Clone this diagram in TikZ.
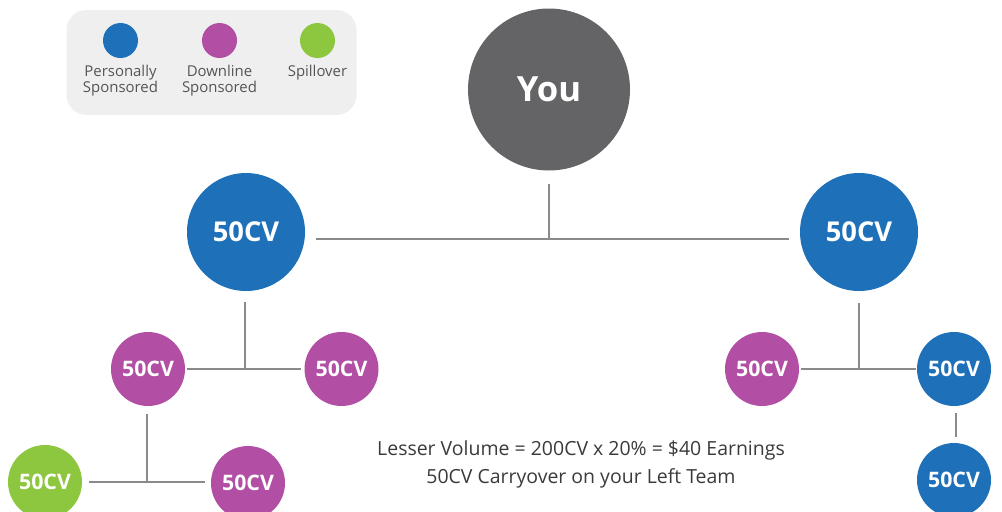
\documentclass[tikz,border=0pt]{standalone}
\usepackage{fontspec}
\setmainfont{Open Sans}
\definecolor{pblue}{HTML}{1E71B8}
\definecolor{pmag}{HTML}{B24FA4}
\definecolor{pgreen}{HTML}{8DC63F}
\definecolor{pgray}{HTML}{646467}
\definecolor{plink}{HTML}{8A8A8A}
\definecolor{plegend}{HTML}{EFEFEF}
\definecolor{ptext}{HTML}{3A3A3A}
\definecolor{plegtext}{HTML}{555555}
\begin{document}
\begin{tikzpicture}[x=0.75pt,y=-0.75pt,
  bub/.style={circle, inner sep=0pt, text=white},
  bigc/.style={bub, minimum size=88.5pt, font=\fontsize{20.5pt}{21pt}\selectfont\bfseries},
  smallc/.style={bub, minimum size=55.5pt, font=\fontsize{16pt}{17pt}\selectfont\bfseries},
  youc/.style={bub, fill=pgray, minimum size=121.5pt, font=\fontsize{26pt}{27pt}\selectfont\bfseries},
  legc/.style={circle, inner sep=0pt, minimum size=26.25pt},
  legtext/.style={anchor=north, inner sep=0pt, align=center, text=plegtext,
     font=\fontsize{11.2pt}{12pt}\selectfont},
  link/.style={draw=plink, line width=2pt}]
\useasboundingbox (0,0) rectangle (1002,511);

% legend
\node[draw=none, fill=plegend, rounded corners=15pt, minimum width=217.5pt, minimum height=78.75pt, inner sep=0pt] (legend) at (211.5,62.5) {};
\node[legc, fill=pblue] (lgblue) at (120.5,40.5) {};
\node[legc, fill=pmag] (lgmag) at (219.5,40.5) {};
\node[legc, fill=pgreen] (lggreen) at (317.5,40.5) {};
\node[legtext] (lgt1) at (120.5,65) {Personally\\Sponsored};
\node[legtext] (lgt2) at (219.5,65) {Downline\\Sponsored};
\node[legtext] (lgt3) at (317.5,65) {Spillover};

% nodes
\node[youc] (you) at (549,89.5) {You};
\node[bigc, fill=pblue] (lb) at (246,232) {50CV};
\node[bigc, fill=pblue] (rb) at (859,232) {50CV};
\node[smallc, fill=pmag] (l1) at (148,369) {50CV};
\node[smallc, fill=pmag] (l2) at (341.5,369) {50CV};
\node[smallc, fill=pgreen] (l3) at (45,482) {50CV};
\node[smallc, fill=pmag] (l4) at (248,483) {50CV};
\node[smallc, fill=pmag] (r1) at (762,369) {50CV};
\node[smallc, fill=pblue] (r2) at (954,369) {50CV};
\node[smallc, fill=pblue] (r3) at (954,480) {50CV};

% junctions
\coordinate (j0) at (549,239);
\coordinate (jl) at (245,369);
\coordinate (jll) at (147,482);
\coordinate (jr) at (859,369);

% connectors
\draw[link] ([shift={(0,13)}]you.south) -- (j0);
\draw[link] ([shift={(11,7)}]lb.east) -- ([shift={(-11,7)}]rb.west);
\draw[link] ([shift={(-1,11)}]lb.south) -- (jl);
\draw[link] ([shift={(2,0)}]l1.east) -- ([shift={(-3,0)}]l2.west);
\draw[link] ([shift={(-1,8)}]l1.south) -- (jll);
\draw[link] ([shift={(7,0)}]l3.east) -- ([shift={(-6,-1)}]l4.west);
\draw[link] ([shift={(0,12)}]rb.south) -- (jr);
\draw[link] ([shift={(2,0)}]r1.east) -- ([shift={(-1,0)}]r2.west);
\draw[link] ([shift={(2,7)}]r2.south) -- ([shift={(2,-6)}]r3.north);

% caption
\node[anchor=north, align=center, inner sep=0pt, text=ptext,
  font=\fontsize{14.6pt}{21pt}\selectfont] (caption) at (581,440)
  {Lesser Volume = 200CV x 20\% = \$40 Earnings\\50CV Carryover on your Left Team};
\end{tikzpicture}
\end{document}
